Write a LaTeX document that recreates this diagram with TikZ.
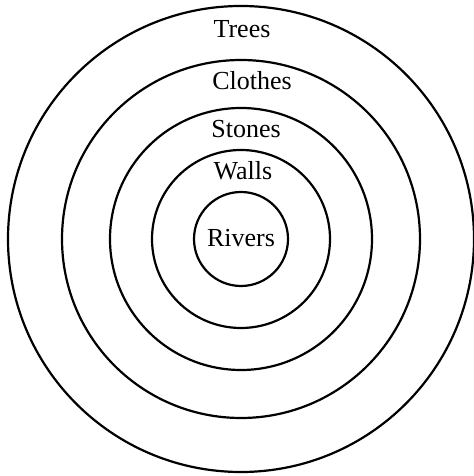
\documentclass[tikz,border=0pt]{standalone}
\usepackage{fontspec}
\setmainfont{Liberation Serif}
\usetikzlibrary{positioning}
\tikzset{
  ring/.style={circle,draw=black,line width=1.1pt,inner sep=0pt},
  ringlabel/.style={anchor=base,inner sep=0pt,font=\fontsize{13}{15}\selectfont}
}
\begin{document}
\begin{tikzpicture}[x=0.5pt,y=0.5pt]
  \useasboundingbox (0,0) rectangle (474,476);
  \coordinate (centre) at (241,237);

  % rings, outermost first
  \node[ring,minimum size=466pt*0.5] (trees ring)   at (centre) {};
  \node[ring,minimum size=358pt*0.5] (clothes ring) at (centre) {};
  \node[ring,minimum size=262pt*0.5] (stones ring)  at (centre) {};
  \node[ring,minimum size=178pt*0.5] (walls ring)   at (centre) {};
  \node[ring,minimum size=94pt*0.5]  (rivers ring)  at (centre) {};

  % labels
  \node[ringlabel] (trees)   at (242,438) {Trees};
  \node[ringlabel] (clothes) at (252,386) {Clothes};
  \node[ringlabel] (stones)  at (246,338) {Stones};
  \node[ringlabel] (walls)   at (243,296) {Walls};
  \node[ringlabel] (rivers)  at (241,229) {Rivers};
\end{tikzpicture}
\end{document}
